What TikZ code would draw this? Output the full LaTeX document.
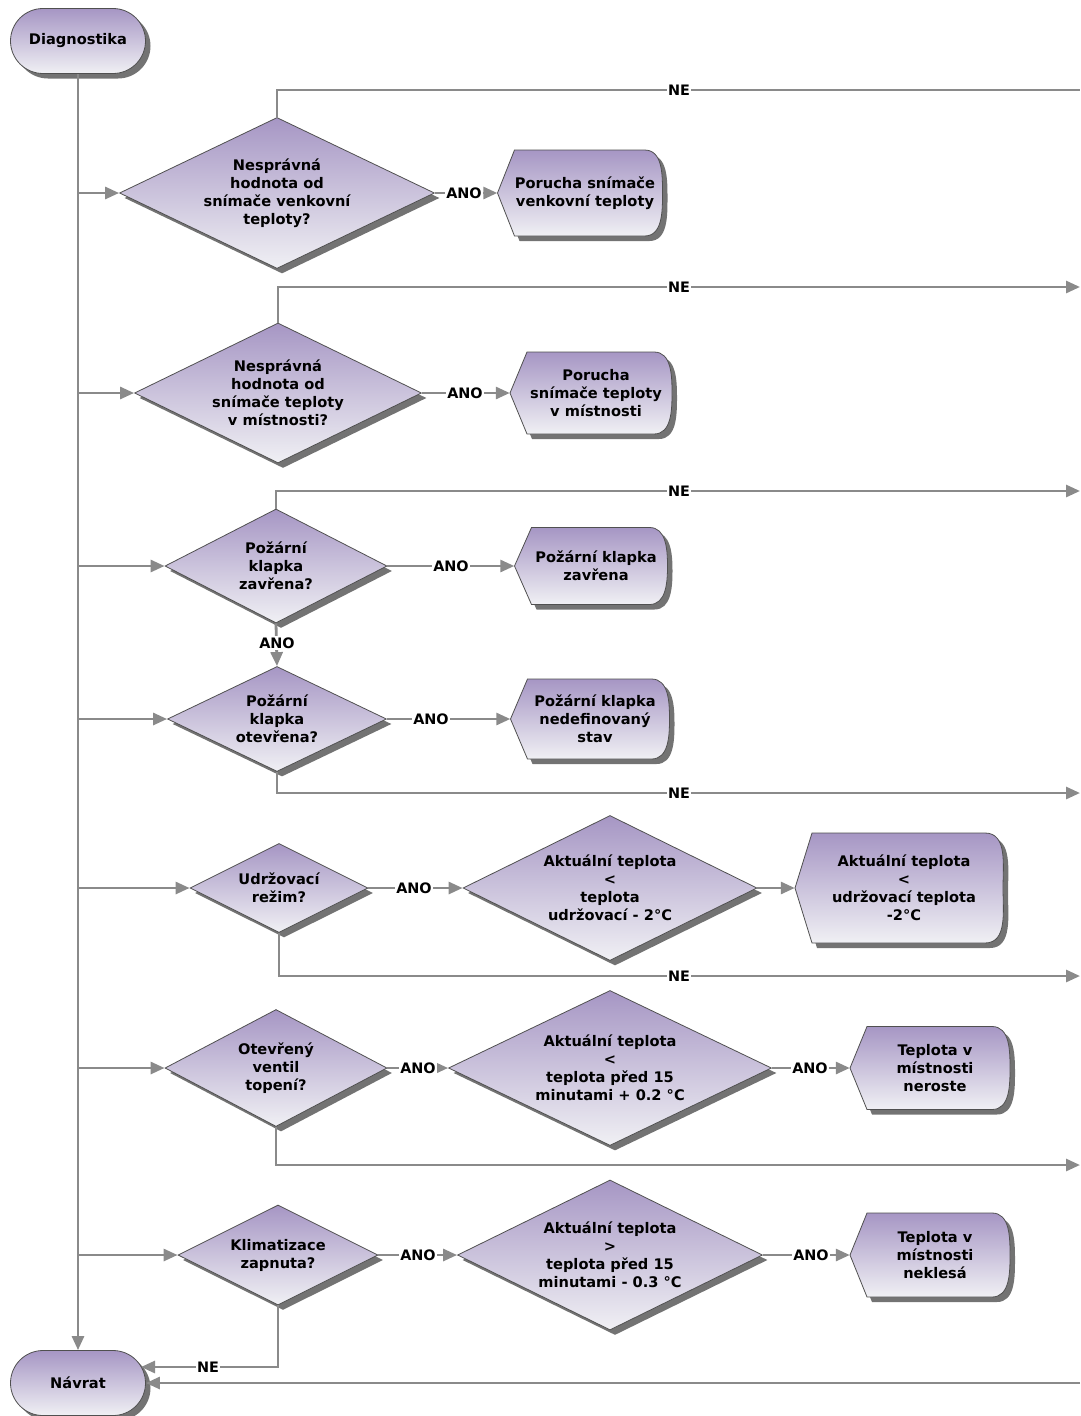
\documentclass[tikz,border=0pt]{standalone}
\usepackage{fontspec}
\setmainfont{DejaVu Sans}
\usetikzlibrary{shapes.geometric,shapes.misc,arrows.meta,shadows,calc}
\definecolor{topc}{RGB}{166,150,196}
\definecolor{botc}{RGB}{240,240,244}
\definecolor{linec}{RGB}{138,138,138}
\definecolor{edgec}{RGB}{80,80,80}
\tikzset{
 shp/.style={draw=edgec, line width=0.8pt, top color=topc, bottom color=botc,
   drop shadow={shadow xshift=5pt, shadow yshift=-5pt, opacity=0.55, fill=black}},
 txt/.style={font=\bfseries\fontsize{14.6}{18}\selectfont, align=center, inner sep=0pt},
 term/.style={shp, rounded rectangle, minimum width=135pt, minimum height=65pt, inner sep=0pt, txt},
 dia/.style={shp, diamond, inner sep=0pt},
 conn/.style={draw=linec, line width=2.8pt, -{Triangle[length=14pt,width=12pt]}},
 plain/.style={draw=linec, line width=2.8pt},
 lab/.style={font=\bfseries\fontsize{14.4}{16}\selectfont, fill=white, inner sep=1.5pt},
}
\newcommand\rsDisp[6]{%
 \pgfmathsetmacro\rsXl{#2-#4/2}%
 \pgfmathsetmacro\rsXr{#2+#4/2}%
 \pgfmathsetmacro\rsXa{#2-#4/2+17}%
 \pgfmathsetmacro\rsXc{#2+#4/2-18}%
 \pgfmathsetmacro\rsYt{#3-#5/2}%
 \pgfmathsetmacro\rsYb{#3+#5/2}%
 \path[shp] (\rsXl,#3) -- (\rsXa,\rsYt) -- (\rsXc,\rsYt) to[out=0,in=90] (\rsXr,#3)
   to[out=-90,in=0] (\rsXc,\rsYb) -- (\rsXa,\rsYb) -- cycle;
 \node[inner sep=0pt, minimum width=#4pt, minimum height=#5pt] (#1) at (#2,#3) {};
 \node[txt] (#1t) at ($(#1.center)+(5,0)$) {#6};
}
\begin{document}
\begin{tikzpicture}[x=1pt,y=-1pt]
\useasboundingbox (0,0) rectangle (1080,1416);

% terminals
\node[term] (dg) at (78,41) {Diagnostika};
\node[term] (nav) at (78,1383) {Návrat};

% diamonds
\node[dia, minimum width=315pt, minimum height=151pt] (d1) at (277,193) {};
\node[txt] (t1) at (d1.center) {Nesprávná\\hodnota od\\snímače venkovní\\teploty?};
\node[dia, minimum width=287pt, minimum height=140pt] (d2) at (278,393) {};
\node[txt] (t2) at (d2.center) {Nesprávná\\hodnota od\\snímače teploty\\v místnosti?};
\node[dia, minimum width=222pt, minimum height=114pt] (d3) at (276,566) {};
\node[txt] (t3) at (d3.center) {Požární\\klapka\\zavřena?};
\node[dia, minimum width=219pt, minimum height=105pt] (d4) at (277,719) {};
\node[txt] (t4) at (d4.center) {Požární\\klapka\\otevřena?};
\node[dia, minimum width=178pt, minimum height=89pt] (d5) at (279,888) {};
\node[txt] (t5) at (d5.center) {Udržovací\\režim?};
\node[dia, minimum width=294pt, minimum height=145pt] (d6) at (610,888) {};
\node[txt] (t6) at (d6.center) {Aktuální teplota\\<\\teplota\\udržovací - 2°C};
\node[dia, minimum width=222pt, minimum height=117pt] (d7) at (276,1068) {};
\node[txt] (t7) at (d7.center) {Otevřený\\ventil\\topení?};
\node[dia, minimum width=323pt, minimum height=155pt] (d8) at (610,1068) {};
\node[txt] (t8) at (d8.center) {Aktuální teplota\\<\\teplota před 15\\minutami + 0.2 °C};
\node[dia, minimum width=200pt, minimum height=100pt] (d9) at (278,1255) {};
\node[txt] (t9) at (d9.center) {Klimatizace\\zapnuta?};
\node[dia, minimum width=305pt, minimum height=150pt] (d10) at (610,1255) {};
\node[txt] (t10) at (d10.center) {Aktuální teplota\\>\\teplota před 15\\minutami - 0.3 °C};

% display boxes
\rsDisp{p1}{580}{193}{165}{86}{Porucha snímače\\venkovní teploty}
\rsDisp{p2}{591}{393}{162}{82}{Porucha\\snímače teploty\\v místnosti}
\rsDisp{p3}{591}{566}{153}{77}{Požární klapka\\zavřena}
\rsDisp{p4}{590}{719}{159}{80}{Požární klapka\\nedefinovaný\\stav}
\rsDisp{p5}{899}{888}{208}{110}{Aktuální teplota\\<\\udržovací teplota\\-2°C}
\rsDisp{p6}{930}{1068}{160}{83}{Teplota v\\místnosti\\neroste}
\rsDisp{p7}{930}{1255}{160}{84}{Teplota v\\místnosti\\neklesá}

% coordinates at the right edge
\coordinate (e1) at (1080,90);
\coordinate (e2) at (1080,287);
\coordinate (e3) at (1080,491);
\coordinate (e4) at (1080,793);
\coordinate (e5) at (1080,976);
\coordinate (e6) at (1080,1165);
\coordinate (eb) at (1080,1383);
\coordinate (navin) at (141,1367);

% trunk
\draw[conn] (dg.south) -- (nav.north);
\foreach \d in {d1,d2,d3,d4,d5,d7,d9}{
  \draw[conn] (dg.south |- \d.west) -- (\d.west);
}

% NE lines
\draw[plain] (d1.north) |- (e1);
\draw[conn] (d2.north) |- (e2);
\draw[conn] (d3.north) |- (e3);
\draw[conn] (d4.south) |- (e4);
\draw[conn] (d5.south) |- (e5);
\draw[conn] (d7.south) |- (e6);
\draw[conn] (d9.south) |- (navin);
\draw[conn] (eb) -- (nav.east);

% ANO lines
\draw[conn] (d1.east) -- (p1.west);
\draw[conn] (d2.east) -- (p2.west);
\draw[conn] (d3.east) -- (p3.west);
\draw[conn] (d3.south) -- (d4.north);
\draw[conn] (d4.east) -- (p4.west);
\draw[conn] (d5.east) -- (d6.west);
\draw[conn] (d6.east) -- (p5.west);
\draw[conn] (d7.east) -- (d8.west);
\draw[conn] (d8.east) -- (p6.west);
\draw[conn] (d9.east) -- (d10.west);
\draw[conn] (d10.east) -- (p7.west);

% labels
\node[lab] (ln1) at (679,90) {NE};
\node[lab] (ln2) at (679,287) {NE};
\node[lab] (ln3) at (679,491) {NE};
\node[lab] (ln4) at (679,793) {NE};
\node[lab] (ln5) at (679,976) {NE};
\node[lab] (ln6) at (208,1367) {NE};
\node[lab] (la1) at (464,193) {ANO};
\node[lab] (la2) at (465,393) {ANO};
\node[lab] (la3) at (451,566) {ANO};
\node[lab] (la4) at (277,643) {ANO};
\node[lab] (la5) at (431,719) {ANO};
\node[lab] (la6) at (414,888) {ANO};
\node[lab] (la7) at (418,1068) {ANO};
\node[lab] (la8) at (810,1068) {ANO};
\node[lab] (la9) at (418,1255) {ANO};
\node[lab] (la10) at (811,1255) {ANO};
\end{tikzpicture}
\end{document}
